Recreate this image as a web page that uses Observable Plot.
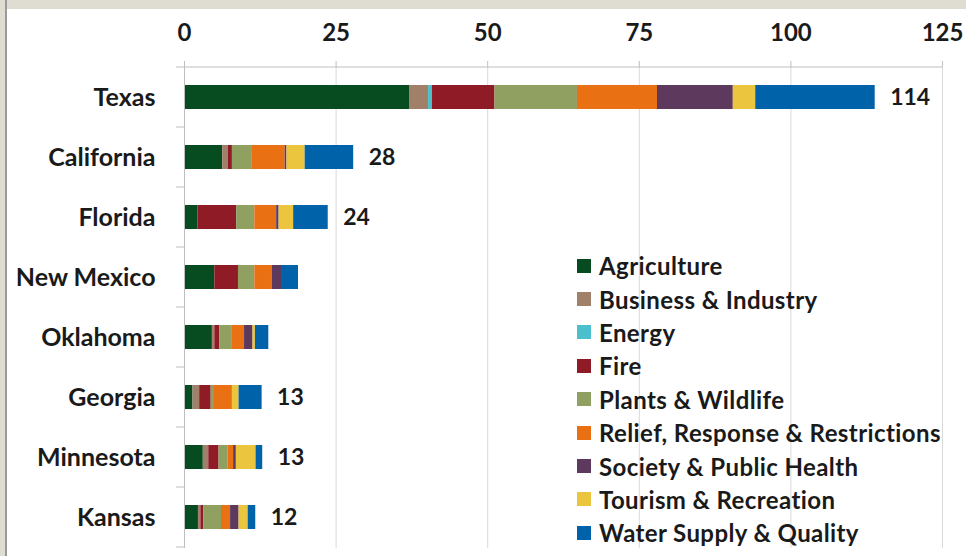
<!DOCTYPE html>
<html>
<head>
<meta charset="utf-8">
<script src="https://cdn.jsdelivr.net/npm/d3@7"></script>
<script src="https://cdn.jsdelivr.net/npm/@observablehq/plot@0.6"></script>
<style>
  html, body { margin: 0; padding: 0; background: #fff; }
  #wrap { position: relative; width: 966px; height: 556px; overflow: hidden; background: #fff; font-family: Lato, "Open Sans", sans-serif; }
  #topstrip { position: absolute; left: 0; top: 0; width: 966px; height: 9px; background: #dfdcd1; }
  #leftstrip { position: absolute; left: 0; top: 0; width: 5px; height: 556px; background: #dfdcd1; border-right: 2px solid #9a9a9a; }
  #chart { position: absolute; left: 0; top: 0; }
  #legend { position: absolute; left: 577px; top: 249px; }
  .row { display: flex; align-items: center; height: 33.4px; font-size: 24px; letter-spacing: 0.4px; font-weight: bold; color: #1a1a1a; white-space: nowrap; }
  .sw { width: 14px; height: 14px; margin-right: 8px; flex: none; }
</style>
</head>
<body>
<div id="wrap">
  <div id="chart"></div>
  <div id="legend"></div>
  <div id="topstrip"></div>
  <div id="leftstrip"></div>
</div>
<script>
const states = ["Texas", "California", "Florida", "New Mexico", "Oklahoma", "Georgia", "Minnesota", "Kansas"];
const categories = ["Agriculture", "Business & Industry", "Energy", "Fire", "Plants & Wildlife",
  "Relief, Response & Restrictions", "Society & Public Health", "Tourism & Recreation", "Water Supply & Quality"];
const colors = ["#074b20", "#a08069", "#4bbfcc", "#8e1b25", "#8fa060", "#ea7014", "#5e395e", "#ecc53e", "#0062a8"];

// values per category, in the order of states
const agriculture = [37.2, 6.3, 2.2, 5.0, 4.6, 1.4, 3.1, 2.3];
const business    = [3.05, 0.9, 0, 0, 0.4, 1.1, 0.9, 0.4];
const energy      = [0.65, 0, 0, 0, 0, 0, 0, 0];
const fire        = [10.3, 0.7, 6.4, 3.9, 0.8, 1.9, 1.7, 0.5];
const plants      = [13.6, 3.3, 3.0, 2.7, 2.1, 0.4, 1.5, 2.9];
const relief      = [13.2, 5.4, 3.6, 2.9, 2.0, 3.1, 0.9, 1.5];
const society     = [12.5, 0.3, 0.4, 1.5, 1.4, 0, 0.45, 1.4];
const tourism     = [3.7, 3.0, 2.4, 0, 0.4, 1.1, 3.25, 1.5];
const water       = [19.7, 8.0, 5.7, 2.8, 2.2, 3.8, 1.1, 1.25];

const totalLabels = ["114", "28", "24", "", "", "13", "13", "12"];
const xTicks = [0, 25, 50, 75, 100, 125];

const series = [agriculture, business, energy, fire, plants, relief, society, tourism, water];
const rows = states.flatMap((s, i) => categories.map((c, j) => ({state: s, category: c, value: series[j][i]})));
const totals = states.map((s, i) => ({state: s, total: d3.sum(series, v => v[i]), label: totalLabels[i]}));

const axisColor = "#bfbfbf";
const chart = Plot.plot({
  width: 966,
  height: 556,
  marginLeft: 184,
  marginRight: 24,
  marginTop: 66,
  marginBottom: 8,
  style: {fontFamily: "Lato, sans-serif", background: "transparent", color: "#1a1a1a"},
  x: {domain: [0, 125]},
  y: {domain: states, paddingInner: 0.6, paddingOuter: 0.3},
  color: {domain: categories, range: colors},
  marks: [
    Plot.gridX({ticks: xTicks.slice(1), stroke: "#d9d9d9", strokeOpacity: 1}),
    Plot.barX(rows, Plot.stackX({x: "value", y: "state", fill: "category", order: categories})),
    Plot.ruleX([0], {stroke: axisColor}),
    Plot.axisX({anchor: "top", ticks: xTicks, tickSize: 6, tickPadding: 20, stroke: axisColor,
      fontSize: 24, fontWeight: "bold", fill: "#1a1a1a", label: null}),
    Plot.axisY({tickSize: 0, tickPadding: 29, fontSize: 25, fontWeight: "bold", fill: "#1a1a1a", label: null}),
    Plot.text(totals, {x: "total", y: "state", text: "label", dx: 15, textAnchor: "start",
      fontSize: 23, fontWeight: "bold", fill: "#1a1a1a"})
  ]
});
document.getElementById("chart").appendChild(chart);

// category boundary ticks and top axis line, placed with the plot's own scales
const yS = chart.scale("y");
const xS = chart.scale("x");
const svg = d3.select(chart);
const x0 = xS.apply(0), x1 = xS.apply(125);
const bounds = states.map(s => yS.apply(s) - (yS.step - yS.bandwidth) / 2);
bounds.push(bounds[bounds.length - 1] + yS.step);
svg.append("g").attr("stroke", axisColor)
  .selectAll("line").data(bounds).join("line")
  .attr("x1", x0 - 8).attr("x2", x0).attr("y1", d => d).attr("y2", d => d);
svg.append("line").attr("stroke", axisColor)
  .attr("x1", x0).attr("x2", x1).attr("y1", bounds[0]).attr("y2", bounds[0]);

// legend
const legend = d3.select("#legend");
const item = legend.selectAll(".row").data(categories).join("div").attr("class", "row");
item.append("div").attr("class", "sw").style("background", (d, i) => colors[i]);
item.append("span").text(d => d);
</script>
</body>
</html>
